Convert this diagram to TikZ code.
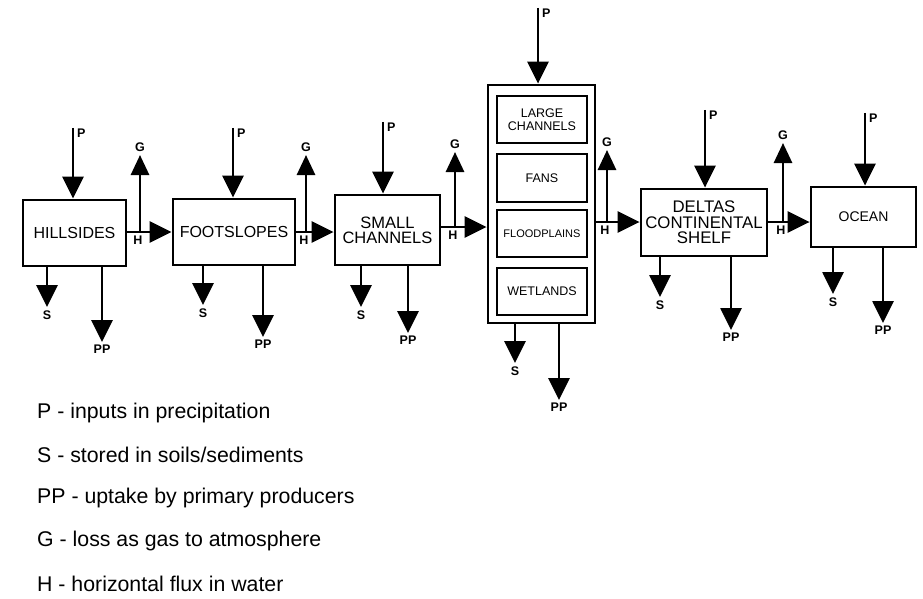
\documentclass[tikz,border=0pt]{standalone}
\usepackage{fontspec}
\setmainfont{Liberation Sans}
\usetikzlibrary{arrows.meta,calc}
\begin{document}
\begin{tikzpicture}[x=1pt,y=-1pt,
  box/.style={draw,line width=2.8pt,inner sep=0pt,align=center,font=\fontsize{16}{16}\selectfont},
  inbox/.style={draw,line width=1.1pt,inner sep=0pt,minimum width=90pt,align=center,font=\fontsize{12.5}{12.5}\selectfont},
  arr/.style={line width=2.8pt,-{Triangle[width=21pt,length=22pt]}},
  garr/.style={line width=2.8pt,-{Triangle[width=18pt,length=20pt]}},
  lab/.style={font=\bfseries\fontsize{12.5}{12.5}\selectfont,inner sep=1pt},
  leg/.style={anchor=west,font=\fontsize{21.3}{22}\selectfont,inner sep=0pt}]
\useasboundingbox (0,0) rectangle (923,599);

% boxes
\node[box,minimum width=103pt,minimum height=66pt] (hill) at (74.5,233) {HILLSIDES};
\node[box,minimum width=122pt,minimum height=66pt] (foot) at (234,232) {FOOTSLOPES};
\node[box,minimum width=105pt,minimum height=70pt,font=\fontsize{16.5}{15}\selectfont] (small) at (387.5,230) {SMALL\\CHANNELS};
\node[box,minimum width=107pt,minimum height=238pt] (big) at (541.5,204) {};
\node[inbox,minimum height=47pt] (lc) at (542,119.5) {LARGE\\CHANNELS};
\node[inbox,minimum height=48pt] (fans) at (542,178) {FANS};
\node[inbox,minimum height=47pt,font=\fontsize{11}{11}\selectfont] (fp) at (542,233.5) {FLOODPLAINS};
\node[inbox,minimum height=47pt] (wl) at (542,291.5) {WETLANDS};
\node[box,minimum width=126pt,minimum height=67pt,font=\fontsize{16.8}{15.5}\selectfont] (delta) at (704,222.5) {DELTAS\\CONTINENTAL\\SHELF};
\node[box,minimum width=105pt,minimum height=60pt,font=\fontsize{14}{14}\selectfont] (ocean) at (863.5,217) {OCEAN};

% P inputs
\foreach \b/\x/\y in {hill/73/128, foot/233/128, small/383/122, big/538/8, delta/705/110, ocean/865/113}{
  \coordinate (p\b) at (\x,\y);
  \draw[arr] (p\b) -- (p\b |- \b.north);
  \node[lab,anchor=north west] (pl\b) at ($(p\b)+(3,0)$) {P};
}

% S outputs
\foreach \b/\x/\y in {hill/47/307, foot/203/305, small/361/307, big/515/363, delta/660/297, ocean/833/294}{
  \coordinate (s\b) at (\x,\y);
  \draw[arr] (s\b |- \b.south) -- (s\b);
  \node[lab,anchor=north] (sl\b) at ($(s\b)+(0,3)$) {S};
}

% PP outputs
\foreach \b/\x/\y in {hill/102/342, foot/263/337, small/408/333, big/559/400, delta/731/330, ocean/883/323}{
  \coordinate (pp\b) at (\x,\y);
  \draw[arr] (pp\b |- \b.south) -- (pp\b);
  \node[lab,anchor=north] (ppl\b) at ($(pp\b)+(0,2)$) {PP};
}

% H fluxes and G losses
\foreach \a/\b/\x/\y/\g in {hill/foot/140/232/155, foot/small/306/232/155, small/big/455/227/152, big/delta/607/222/150, delta/ocean/783/222/143}{
  \coordinate (h\a) at (\x,\y);
  \coordinate (g\a) at (\x,\g);
  \draw[arr] (h\a -| \a.east) -- (h\a -| \b.west);
  \draw[garr] (h\a) -- (g\a);
  \node[lab,anchor=south] (gl\a) at ($(g\a)+(0,-2)$) {G};
  \node[lab,anchor=north] (hl\a) at ($(h\a)+(-2,3)$) {H};
}

% legend
\node[leg] (l1) at (37,413) {P - inputs in precipitation};
\node[leg] (l2) at (37,455) {S - stored in soils/sediments};
\node[leg] (l3) at (37,498) {PP - uptake by primary producers};
\node[leg] (l4) at (37,541) {G - loss as gas to atmosphere};
\node[leg] (l5) at (37,584) {H - horizontal flux in water};
\end{tikzpicture}
\end{document}
